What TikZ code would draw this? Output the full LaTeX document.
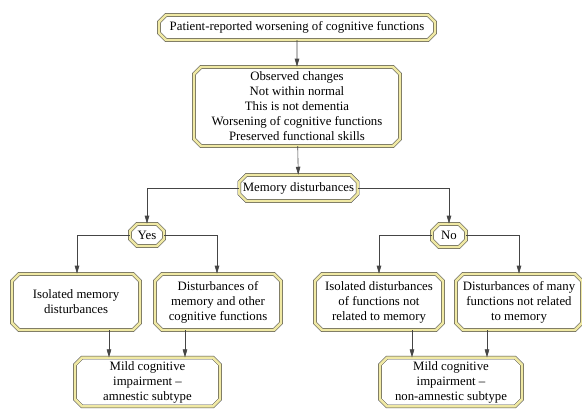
\documentclass[tikz,border=0pt]{standalone}
\usepackage{fontspec}
\setmainfont{Liberation Serif}
\usetikzlibrary{shapes.misc,arrows.meta}
\definecolor{bandyellow}{HTML}{F0E9A4}
\definecolor{edgegray}{HTML}{454545}
\tikzset{
  box/.style={chamfered rectangle, chamfered rectangle xsep=3.5pt, chamfered rectangle ysep=3.5pt,
    draw=edgegray, line width=0.5pt, double=bandyellow, double distance=2.6pt, fill=white,
    inner sep=0pt, align=center, font=\rmfamily\fontsize{12.8}{15}\selectfont},
  arr/.style={draw=edgegray, line width=0.6pt, -{Triangle[length=8pt,width=4.5pt]}},
}
\begin{document}
\begin{tikzpicture}[x=1pt,y=-1pt]
\useasboundingbox (0,0) rectangle (582,411);
\node[box, minimum width=276, minimum height=25] (top) at (297,27.5) {Patient-reported worsening of cognitive functions};
\node[box, minimum width=206, minimum height=79] (obs) at (297,106.5) {Observed changes\\Not within normal\\This is not dementia\\Worsening of cognitive functions\\Preserved functional skills};
\node[box, minimum width=117, minimum height=26] (mem) at (298.5,188) {Memory disturbances};
\node[box, minimum width=34, minimum height=22] (yes) at (147,235) {Yes};
\node[box, minimum width=34, minimum height=23] (no) at (449,235.5) {No};
\node[box, minimum width=128, minimum height=56] (iso) at (76,302) {Isolated memory\\disturbances};
\node[box, minimum width=126, minimum height=56] (dmo) at (218,302) {Disturbances of\\memory and other\\cognitive functions};
\node[box, minimum width=128, minimum height=56] (idf) at (379,302) {Isolated disturbances\\of functions not\\related to memory};
\node[box, minimum width=126, minimum height=56] (dmf) at (519,302) {Disturbances of many\\functions not related\\to memory};
\node[box, minimum width=145, minimum height=46] (mca) at (147.5,382) {Mild cognitive\\impairment –\\amnestic subtype};
\node[box, minimum width=142, minimum height=46] (mcn) at (451,382) {Mild cognitive\\impairment –\\non-amnestic subtype};

\draw[arr] (top) -- (obs);
\draw[arr] (obs) -- (mem);
\draw[arr] (mem.west) -| (yes.north);
\draw[arr] (mem.east) -| (no.north);
\draw[arr] (yes.west) -| ([xshift=1]iso.north);
\draw[arr] (yes.east) -| ([xshift=-1]dmo.north);
\draw[arr] (no.west) -| (idf.north);
\draw[arr] (no.east) -| (dmf.north);
\draw[arr] ([xshift=33]iso.south) -- ([xshift=33]iso.south |- mca.north);
\draw[arr] ([xshift=-33]dmo.south) -- ([xshift=-33]dmo.south |- mca.north);
\draw[arr] ([xshift=33]idf.south) -- ([xshift=33]idf.south |- mcn.north);
\draw[arr] ([xshift=-32]dmf.south) -- ([xshift=-32]dmf.south |- mcn.north);
\end{tikzpicture}
\end{document}
